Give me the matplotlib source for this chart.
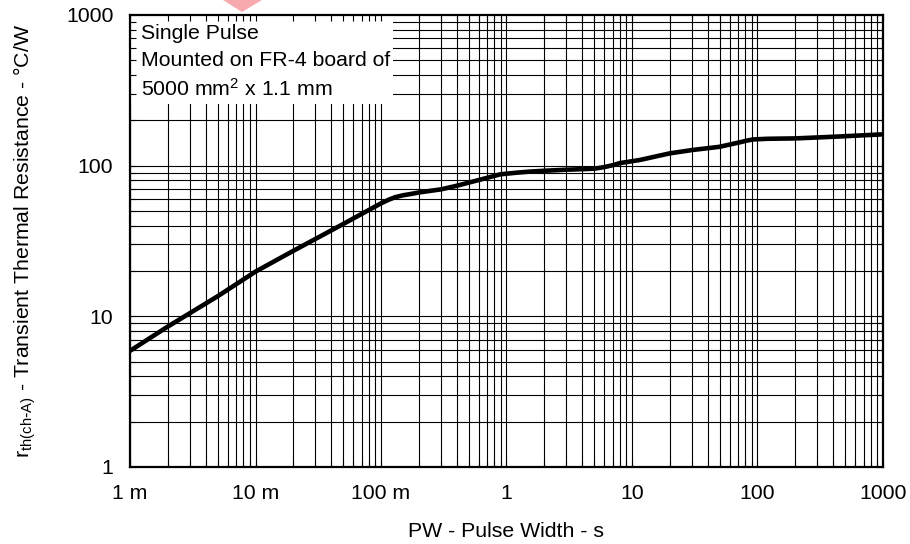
import numpy as np
import matplotlib
matplotlib.use("Agg")
import matplotlib.pyplot as plt
from matplotlib.patches import Rectangle, Polygon

plt.rcParams['font.family'] = ['Liberation Sans', 'DejaVu Sans']
plt.rcParams['mathtext.default'] = 'regular'

# Transient thermal resistance, single pulse
pulse_width_s = [0.001, 0.002, 0.005, 0.010, 0.020, 0.050, 0.100, 0.115, 0.130,
                 0.150, 0.175, 0.203, 0.300, 0.400, 0.510, 0.700, 0.890, 1.2,
                 1.5, 2.0, 3.0, 4.0, 5.0, 6.0, 7.1, 8.0, 11.5, 20.0, 30.0,
                 50.0, 72.0, 82.0, 92.0, 120.0, 200.0, 400.0, 1000.0]
r_th_cw = [5.9, 8.55, 13.6, 19.8, 27.2, 41.0, 56.2, 59.4, 61.8,
           63.6, 65.0, 66.5, 69.6, 73.5, 77.5, 83.0, 87.6, 89.8,
           91.2, 92.5, 94.0, 94.8, 95.5, 97.8, 100.9, 104.0, 109.0, 120.7, 126.9,
           133.5, 142.8, 146.5, 149.3, 150.8, 151.7, 155.5, 161.4]

x_tick_vals = [1e-3, 1e-2, 1e-1, 1, 10, 100, 1000]
x_tick_labels = ["1 m", "10 m", "100 m", "1", "10", "100", "1000"]
y_tick_vals = [1, 10, 100, 1000]
y_tick_labels = ["1", "10", "100", "1000"]

W, H, DPI = 910, 544, 100
FS = 15.3
fig = plt.figure(figsize=(W / DPI, H / DPI), dpi=DPI)
ax = fig.add_axes([130 / W, 1 - 467 / H, 753 / W, 452 / H])
ax.set_xscale('log')
ax.set_yscale('log')
ax.set_xlim(1e-3, 1e3)
ax.set_ylim(1, 1000)

# full log grid (majors and 2..9 minors), drawn as plain lines
xdec = 10.0 ** np.arange(-3, 3)
ydec = 10.0 ** np.arange(0, 3)
xg = np.concatenate([d * np.arange(1, 10) for d in xdec])
yg = np.concatenate([d * np.arange(1, 10) for d in ydec])
ax.vlines(xg, 1, 1000, colors='black', linewidth=0.8, zorder=1)
ax.hlines(yg, 1e-3, 1e3, colors='black', linewidth=0.8, zorder=1)

# white panel behind the condition notes
ax.add_patch(Rectangle((0, 0.803), 0.349, 0.197, transform=ax.transAxes,
                       facecolor='white', edgecolor='none', zorder=2))

ax.plot(pulse_width_s, r_th_cw, color='black', linewidth=3.3,
        solid_capstyle='butt', solid_joinstyle='round', zorder=3)

ax.set_axisbelow(False)
ax.set_xticks(x_tick_vals)
ax.set_xticklabels(x_tick_labels)
ax.set_yticks(y_tick_vals)
ax.set_yticklabels(y_tick_labels)
ax.tick_params(which='both', direction='in', top=True, right=True,
               length=4, width=0.8, labelsize=FS, colors='black')
ax.tick_params(axis='x', which='major', pad=12)
ax.tick_params(axis='y', which='major', pad=12)
for s in ax.spines.values():
    s.set_linewidth(1.6)

ax.set_xlabel("PW - Pulse Width - s", fontsize=FS, labelpad=14)
ax.set_ylabel(r"r$_{th(ch\text{-}A)}$ - Transient Thermal Resistance - °C/W",
              fontsize=FS, labelpad=20)

notes = ["Single Pulse", "Mounted on FR-4 board of", r"5000 mm$^{2}$ x 1.1 mm"]
note_y = [0.960, 0.899, 0.836]
for t, yy in zip(notes, note_y):
    ax.text(0.0146, yy, t, transform=ax.transAxes, fontsize=FS,
            ha='left', va='center', zorder=4)

# faint logo fragment at the top edge
fig.patches.append(Polygon([[223 / W, 1.0], [262 / W, 1.0], [242 / W, 1 - 12 / H]],
                           closed=True, transform=fig.transFigure,
                           facecolor='#f7a9ae', edgecolor='none'))

fig.savefig("out.png", dpi=DPI)
